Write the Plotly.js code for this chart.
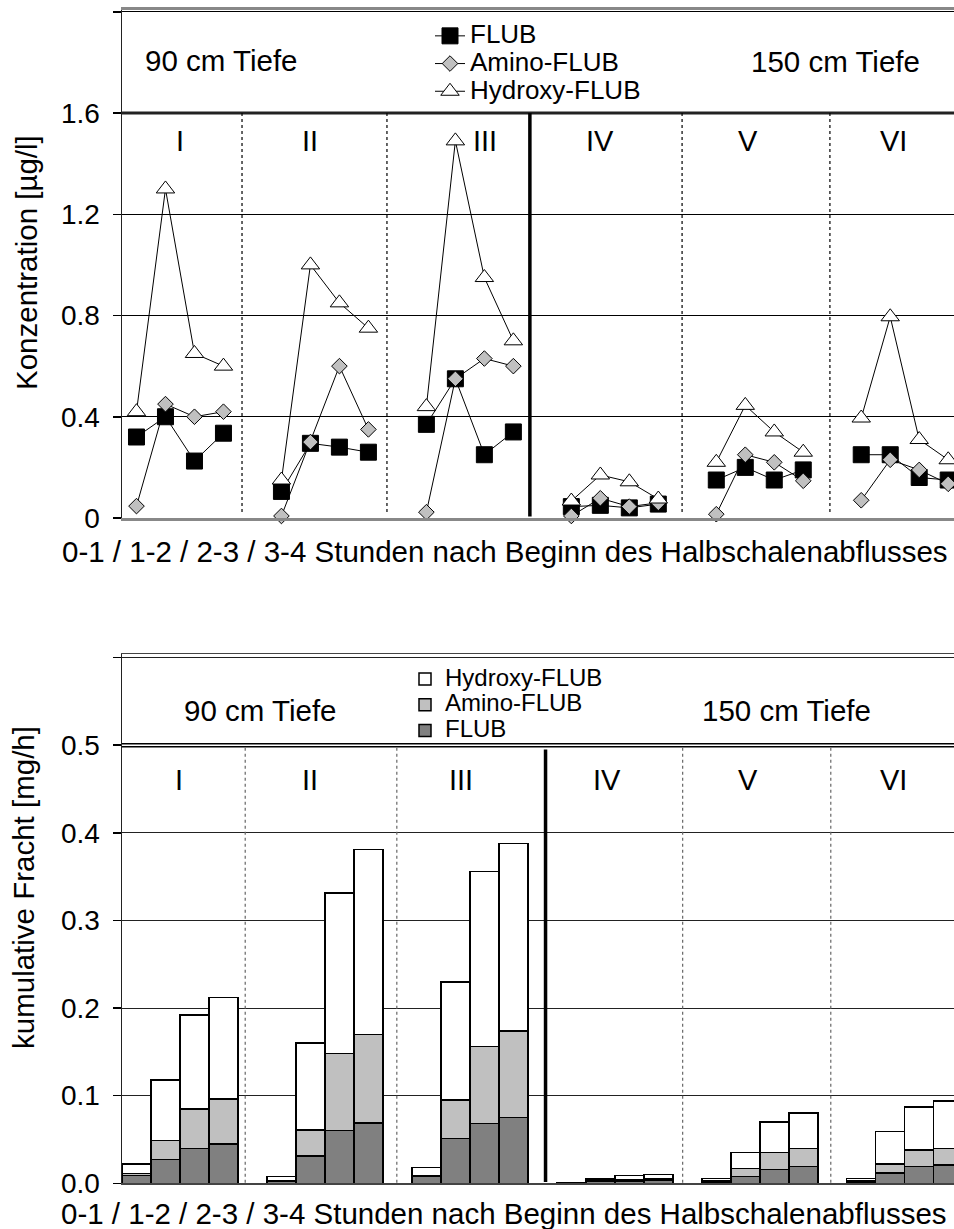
<!DOCTYPE html>
<html><head><meta charset="utf-8">
<script src="https://cdn.plot.ly/plotly-3.0.1.min.js"></script>
<style>html,body{margin:0;padding:0;background:#fff;} #chart{width:954px;height:1229px;}</style>
</head><body><div id="chart"></div>
<script>
// ---------- data ----------
const groups = ['I', 'II', 'III', 'IV', 'V', 'VI'];
const hours = ['0-1', '1-2', '2-3', '3-4'];
const depthLabels = ['90 cm Tiefe', '150 cm Tiefe'];
const seriesNames = ['FLUB', 'Amino-FLUB', 'Hydroxy-FLUB'];

// Konzentration [µg/l], 4 hourly values per profile I..VI
const concFLUB    = [0.32, 0.40, 0.225, 0.335,  0.105, 0.295, 0.28, 0.26,  0.37, 0.55, 0.25, 0.34,  0.045, 0.05, 0.04, 0.055,  0.15, 0.20, 0.15, 0.19,  0.25, 0.25, 0.16, 0.15];
const concAmino   = [0.047, 0.45, 0.40, 0.42,  0.008, 0.30, 0.60, 0.35,  0.023, 0.55, 0.63, 0.60,  0.008, 0.078, 0.045, 0.06,  0.015, 0.25, 0.22, 0.147,  0.07, 0.23, 0.19, 0.135];
const concHydroxy = [0.42, 1.30, 0.65, 0.60,  0.15, 1.00, 0.85, 0.75,  0.44, 1.49, 0.95, 0.70,  0.067, 0.17, 0.143, 0.075,  0.22, 0.445, 0.34, 0.26,  0.395, 0.795, 0.31, 0.23];

// kumulative Fracht [mg/h], stacked contributions
const loadFLUB    = [0.009, 0.027, 0.040, 0.045,  0.002, 0.031, 0.060, 0.069,  0.008, 0.051, 0.068, 0.075,  0.0005, 0.002, 0.0025, 0.003,  0.0015, 0.008, 0.016, 0.019,  0.0015, 0.012, 0.019, 0.021];
const loadAmino   = [0.002, 0.022, 0.045, 0.051,  0.001, 0.030, 0.088, 0.101,  0.001, 0.044, 0.088, 0.099,  0.0003, 0.0007, 0.0015, 0.002,  0.0012, 0.009, 0.019, 0.021,  0.0012, 0.010, 0.019, 0.019];
const loadHydroxy = [0.011, 0.069, 0.107, 0.116,  0.0046, 0.099, 0.183, 0.211,  0.009, 0.135, 0.200, 0.214,  0.0002, 0.0023, 0.0047, 0.0049,  0.0026, 0.018, 0.035, 0.040,  0.0026, 0.037, 0.049, 0.054];

const yTicksTop = [0, 0.4, 0.8, 1.2, 1.6, 2.0];
const yTickTextTop = ['0', '0.4', '0.8', '1.2', '1.6', ''];
const yTicksBottom = [0, 0.1, 0.2, 0.3, 0.4, 0.5, 0.6];
const yTickTextBottom = ['0.0', '0.1', '0.2', '0.3', '0.4', '0.5', ''];
const xTitle = '0-1 / 1-2 / 2-3 / 3-4 Stunden nach Beginn des Halbschalenabflusses';

// ---------- helpers ----------
const FONT = 'Liberation Sans, Arial, sans-serif';
const W = 954, H = 1229;
const px = x => x / W;
const py = y => 1 - y / H;

// slot position: each profile has 4 hourly slots + 1 empty slot
function slots(vals) {
  return vals.map((v, i) => Math.floor(i / hours.length) * 5 + (i % hours.length));
}
function lineWithBreaks(vals) {
  const xs = [], ys = [], txt = [];
  vals.forEach((v, i) => {
    const g = Math.floor(i / hours.length), k = i % hours.length;
    xs.push(g * 5 + k); ys.push(v); txt.push(groups[g] + ' ' + hours[k] + ' h');
    if (k === hours.length - 1 && g < groups.length - 1) { xs.push(g * 5 + 4); ys.push(null); txt.push(''); }
  });
  return {xs, ys, txt};
}
function hoverText(vals) {
  return vals.map((v, i) => groups[Math.floor(i / 4)] + ' ' + hours[i % 4] + ' h');
}
const leg = (s, size) => '<span style="font-size:' + size + 'px">' + s + '</span>';

// ---------- traces ----------
const lf = lineWithBreaks(concFLUB), la = lineWithBreaks(concAmino), lh = lineWithBreaks(concHydroxy);
const traces = [
  {x: lf.xs, y: lf.ys, text: lf.txt, name: leg(seriesNames[0], 26), type: 'scatter', mode: 'lines+markers',
   xaxis: 'x', yaxis: 'y', legend: 'legend', cliponaxis: false,
   line: {color: '#000', width: 1},
   marker: {symbol: 'square', size: 16, color: '#000', line: {color: '#000', width: 1}}},
  {x: la.xs, y: la.ys, text: la.txt, name: leg(seriesNames[1], 26), type: 'scatter', mode: 'lines+markers',
   xaxis: 'x', yaxis: 'y', legend: 'legend', cliponaxis: false,
   line: {color: '#000', width: 1},
   marker: {symbol: 'diamond', size: 12, color: '#c0c0c0', line: {color: '#000', width: 1}}},
  {x: lh.xs, y: lh.ys, text: lh.txt, name: leg(seriesNames[2], 26), type: 'scatter', mode: 'lines+markers',
   xaxis: 'x', yaxis: 'y', legend: 'legend', cliponaxis: false,
   line: {color: '#000', width: 1},
   marker: {symbol: 'triangle-up', size: 16, color: '#fff', line: {color: '#000', width: 1}}},
  {x: slots(loadFLUB), y: loadFLUB, text: hoverText(loadFLUB), name: leg(seriesNames[0], 24), type: 'bar',
   xaxis: 'x2', yaxis: 'y2', legend: 'legend2',
   marker: {color: '#808080', line: {color: '#000', width: 1.5}}},
  {x: slots(loadAmino), y: loadAmino, text: hoverText(loadAmino), name: leg(seriesNames[1], 24), type: 'bar',
   xaxis: 'x2', yaxis: 'y2', legend: 'legend2',
   marker: {color: '#c0c0c0', line: {color: '#000', width: 1.5}}},
  {x: slots(loadHydroxy), y: loadHydroxy, text: hoverText(loadHydroxy), name: leg(seriesNames[2], 24), type: 'bar',
   xaxis: 'x2', yaxis: 'y2', legend: 'legend2',
   marker: {color: '#ffffff', line: {color: '#000', width: 1.5}}}
];
traces.forEach(t => { t.textposition = 'none'; t.hoverinfo = 'text+y'; });

// ---------- layout ----------
const xDomain = [px(122), 1];
const xRange = [-0.5, 28.2];
const tickFont = {family: FONT, size: 28, color: '#000'};

function vline(xr, yr, x, y0, y1, color, width, dash) {
  return {type: 'line', xref: xr, yref: yr, x0: x, x1: x, y0: y0, y1: y1, layer: 'above',
          line: {color: color, width: width, dash: dash || 'solid'}};
}
function hline(xr, yr, y, color, width) {
  return {type: 'line', xref: xr + ' domain', yref: yr, x0: 0, x1: 1, y0: y, y1: y, layer: 'above',
          line: {color: color, width: width}};
}

const shapes = [
  // top chart: 1.6 separator line and profile separators
  hline('x', 'y', 1.6, '#222', 3),
  vline('x', 'y', 3.64, 1.6, 0.024, '#000', 1.2, 'dot'),
  vline('x', 'y', 8.64, 1.6, 0.024, '#000', 1.2, 'dot'),
  vline('x', 'y', 13.57, 1.6, 0.006, '#000', 3.5),
  vline('x', 'y', 18.82, 1.6, 0.024, '#000', 1.2, 'dot'),
  vline('x', 'y', 23.92, 1.6, 0.024, '#000', 1.2, 'dot'),
  // bottom chart: double line at 0.5 and separators
  hline('x2', 'y2', 0.5, '#000', 4.5),
  hline('x2', 'y2', 0.5, '#fff', 1.5),
  vline('x2', 'y2', 3.75, 0.497, 0, '#666', 1.2, 'dot'),
  vline('x2', 'y2', 8.98, 0.497, 0, '#666', 1.2, 'dot'),
  vline('x2', 'y2', 14.11, 0.495, 0.0015, '#000', 3.5),
  vline('x2', 'y2', 18.84, 0.497, 0, '#666', 1.2, 'dot'),
  vline('x2', 'y2', 23.95, 0.497, 0, '#666', 1.2, 'dot')
];

function ann(text, x, y, size, extra) {
  return Object.assign({text: text, xref: 'paper', yref: 'paper', x: px(x), y: py(y),
    xanchor: 'center', yanchor: 'middle', showarrow: false,
    font: {family: FONT, size: size, color: '#000'}}, extra || {});
}
const groupXTop = [180, 310, 485, 600, 748, 893];
const groupXBottom = [179, 310, 461, 607, 748, 893];
const annotations = [
  ann(depthLabels[0], 221, 61, 29.5),
  ann(depthLabels[1], 835, 62, 29.5),
  ann(depthLabels[0], 259.5, 710, 29.5),
  ann(depthLabels[1], 786.7, 710, 29.5),
  ann(xTitle, 505, 552, 29.5),
  ann(xTitle, 504, 1213, 29.5),
  ann('Konzentration [µg/l]', 26, 263, 29.5, {textangle: -90}),
  ann('kumulative Fracht [mg/h]', 24, 888, 29.5, {textangle: -90})
];
groups.forEach((g, i) => {
  annotations.push(ann(g, groupXTop[i], 141, 29));
  annotations.push(ann(g, groupXBottom[i], 780, 29));
});

const layout = {
  width: W, height: H,
  margin: {l: 0, r: 0, t: 0, b: 0, pad: 0},
  paper_bgcolor: '#fff', plot_bgcolor: 'rgba(0,0,0,0)',
  font: {family: FONT, size: 28, color: '#000'},
  barmode: 'stack', bargap: 0,
  showlegend: true,
  xaxis: {domain: xDomain, range: xRange, anchor: 'y', showticklabels: false, ticks: '',
          showgrid: false, zeroline: false, showline: true, linecolor: '#888', linewidth: 3, mirror: true},
  yaxis: {domain: [py(518), py(10)], range: [0, 2.007], anchor: 'x', tickvals: yTicksTop, ticktext: yTickTextTop,
          tickfont: tickFont, ticks: 'outside', ticklen: 8, tickwidth: 1.5, tickcolor: '#000', ticklabelstandoff: 7,
          showgrid: true, gridcolor: '#000', gridwidth: 1, zeroline: false,
          showline: true, linecolor: '#222', linewidth: 1.5},
  xaxis2: {domain: xDomain, range: xRange, anchor: 'y2', showticklabels: false, ticks: '',
          showgrid: false, zeroline: false, showline: true, linecolor: '#444', linewidth: 1.5, mirror: true},
  yaxis2: {domain: [py(1183.3), py(654)], range: [0, 0.604], anchor: 'x2', tickvals: yTicksBottom, ticktext: yTickTextBottom,
          tickfont: tickFont, ticks: 'outside', ticklen: 8, tickwidth: 1.5, tickcolor: '#000', ticklabelstandoff: 7,
          showgrid: true, gridcolor: '#222', gridwidth: 1, zeroline: false,
          showline: true, linecolor: '#222', linewidth: 1.5},
  legend: {x: px(430), y: py(17), xanchor: 'left', yanchor: 'top', bgcolor: 'rgba(0,0,0,0)', borderwidth: 0,
           font: {family: FONT, size: 19, color: '#000'}, traceorder: 'normal', tracegroupgap: 0},
  legend2: {x: px(405), y: py(661), xanchor: 'left', yanchor: 'top', bgcolor: 'rgba(0,0,0,0)', borderwidth: 0,
           font: {family: FONT, size: 17.5, color: '#000'}, traceorder: 'reversed', tracegroupgap: 0},
  shapes: shapes,
  annotations: annotations
};

Plotly.newPlot('chart', traces, layout, {displayModeBar: false, staticPlot: true});
</script>
</body></html>
